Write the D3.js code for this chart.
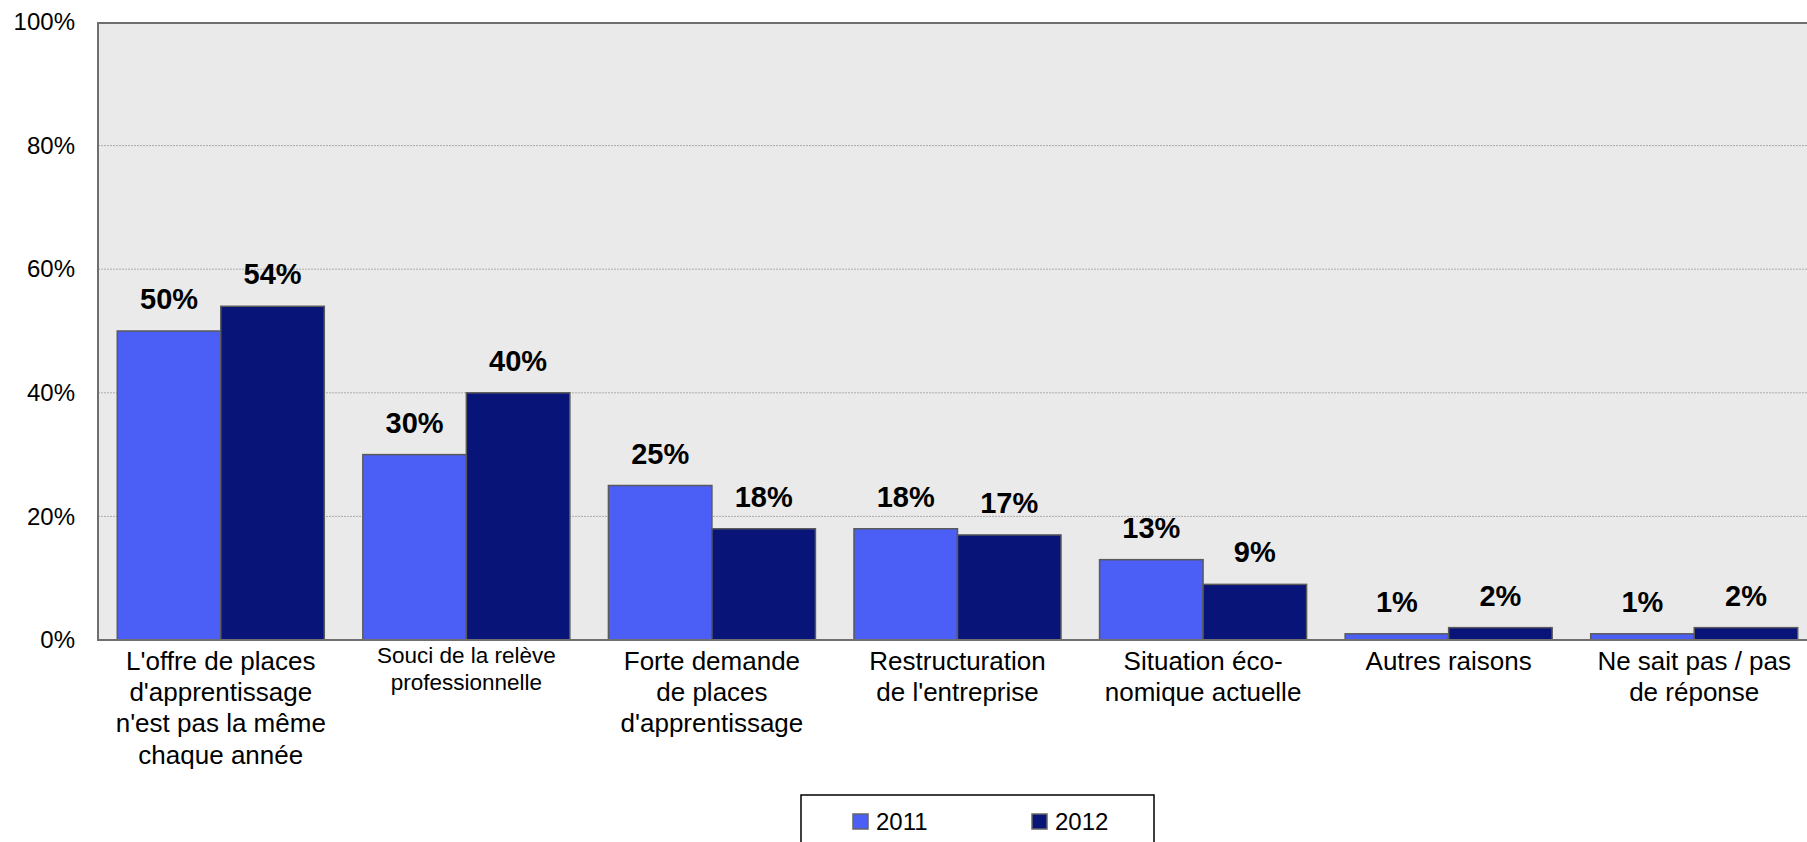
<!DOCTYPE html>
<html>
<head>
<meta charset="utf-8">
<script src="https://cdn.jsdelivr.net/npm/d3@7"></script>
<style>
  html, body { margin: 0; padding: 0; background: #ffffff; }
  svg { display: block; font-family: "Liberation Sans", Arial, sans-serif; }
</style>
</head>
<body>
<svg id="chart" width="1807" height="842"></svg>
<script>
// ---- data ----
const categories = [
  "L'offre de places d'apprentissage n'est pas la même chaque année",
  "Souci de la relève professionnelle",
  "Forte demande de places d'apprentissage",
  "Restructuration de l'entreprise",
  "Situation économique actuelle",
  "Autres raisons",
  "Ne sait pas / pas de réponse"
];
const categoryLines = [
  ["L'offre de places", "d'apprentissage", "n'est pas la même", "chaque année"],
  ["Souci de la relève", "professionnelle"],
  ["Forte demande", "de places", "d'apprentissage"],
  ["Restructuration", "de l'entreprise"],
  ["Situation éco-", "nomique actuelle"],
  ["Autres raisons"],
  ["Ne sait pas / pas", "de réponse"]
];
const seriesNames = ["2011", "2012"];
const values2011 = [50, 30, 25, 18, 13, 1, 1];
const values2012 = [54, 40, 18, 17, 9, 2, 2];
const yTicks = [0, 20, 40, 60, 80, 100];

// ---- style / layout ----
const colors = { "2011": "#4b5ef5", "2012": "#081478" };
const labelFontSize = [26, 22.5, 26, 26, 26, 26, 26];
const plot = { left: 98, top: 22, bottom: 640, right: 1817 };

const svg = d3.select("#chart");

const x0 = d3.scaleBand()
  .domain(categories)
  .range([plot.left, plot.right])
  .paddingInner(0.157)
  .paddingOuter(0.0785);
const x1 = d3.scaleBand()
  .domain(seriesNames)
  .range([0, x0.bandwidth()])
  .padding(0);
const y = d3.scaleLinear().domain([0, 100]).range([plot.bottom, plot.top]);

// plot background
svg.append("rect")
  .attr("x", plot.left).attr("y", y(100))
  .attr("width", plot.right - plot.left).attr("height", y(0) - y(100))
  .attr("fill", "#eaeaea");

// gridlines
svg.append("g")
  .selectAll("line")
  .data(yTicks.filter(t => t > 0 && t < 100))
  .join("line")
  .attr("x1", plot.left).attr("x2", plot.right)
  .attr("y1", d => y(d)).attr("y2", d => y(d))
  .attr("stroke", "#ababab").attr("stroke-width", 1)
  .attr("stroke-dasharray", "2,1");

// top border
svg.append("line")
  .attr("x1", plot.left).attr("x2", plot.right)
  .attr("y1", y(100) + 1).attr("y2", y(100) + 1)
  .attr("stroke", "#6f6f6f").attr("stroke-width", 2);

// y axis
const yAxis = d3.axisLeft(y).tickValues(yTicks).tickFormat(d => d + "%").tickSize(0).tickPadding(23);
const gy = svg.append("g").attr("transform", `translate(${plot.left},0)`).call(yAxis);
gy.select(".domain").remove();
gy.selectAll("text")
  .attr("font-size", 24).attr("fill", "#000")
  .attr("font-family", "Liberation Sans, Arial, sans-serif");

// bars
const series = [
  { name: "2011", values: values2011 },
  { name: "2012", values: values2012 }
];
const barData = [];
categories.forEach((c, i) => {
  series.forEach(s => barData.push({ cat: c, series: s.name, value: s.values[i] }));
});

svg.append("g")
  .selectAll("rect")
  .data(barData)
  .join("rect")
  .attr("x", d => x0(d.cat) + x1(d.series))
  .attr("y", d => y(d.value))
  .attr("width", x1.bandwidth())
  .attr("height", d => y(0) - y(d.value))
  .attr("fill", d => colors[d.series])
  .attr("stroke", "#5a5a5a").attr("stroke-width", 1.5);

// value labels
svg.append("g")
  .selectAll("text")
  .data(barData)
  .join("text")
  .attr("x", d => x0(d.cat) + x1(d.series) + x1.bandwidth() / 2)
  .attr("y", d => y(d.value) - 22)
  .attr("text-anchor", "middle")
  .attr("font-size", 29).attr("font-weight", "bold").attr("fill", "#000")
  .text(d => d.value + "%");

// left & bottom axis lines
svg.append("line")
  .attr("x1", plot.left).attr("x2", plot.left)
  .attr("y1", y(100)).attr("y2", y(0) + 1)
  .attr("stroke", "#6f6f6f").attr("stroke-width", 2);
svg.append("line")
  .attr("x1", plot.left).attr("x2", plot.right)
  .attr("y1", y(0)).attr("y2", y(0))
  .attr("stroke", "#6f6f6f").attr("stroke-width", 2);

// category labels
const catG = svg.append("g");
categories.forEach((c, i) => {
  const fs = labelFontSize[i];
  const t = catG.append("text")
    .attr("x", x0(c) + x0.bandwidth() / 2)
    .attr("y", plot.bottom + (fs === 26 ? 30 : 23))
    .attr("text-anchor", "middle")
    .attr("font-size", fs).attr("fill", "#000");
  categoryLines[i].forEach((line, j) => {
    t.append("tspan")
      .attr("x", x0(c) + x0.bandwidth() / 2)
      .attr("dy", j === 0 ? 0 : fs * 1.2)
      .text(line);
  });
});

// legend
const legend = svg.append("g");
legend.append("rect")
  .attr("x", 801).attr("y", 795).attr("width", 353).attr("height", 60)
  .attr("fill", "#fff").attr("stroke", "#000").attr("stroke-width", 1.5);
const legendX = d3.scalePoint().domain(seriesNames).range([853, 1032]);
const li = legend.selectAll("g.item").data(seriesNames).join("g").attr("class", "item")
  .attr("transform", d => `translate(${legendX(d)},814)`);
li.append("rect")
  .attr("width", 15).attr("height", 15)
  .attr("fill", d => colors[d]).attr("stroke", "#666").attr("stroke-width", 1.5);
li.append("text")
  .attr("x", 23).attr("y", 16)
  .attr("font-size", 24).attr("fill", "#000")
  .text(d => d);
</script>
</body>
</html>
